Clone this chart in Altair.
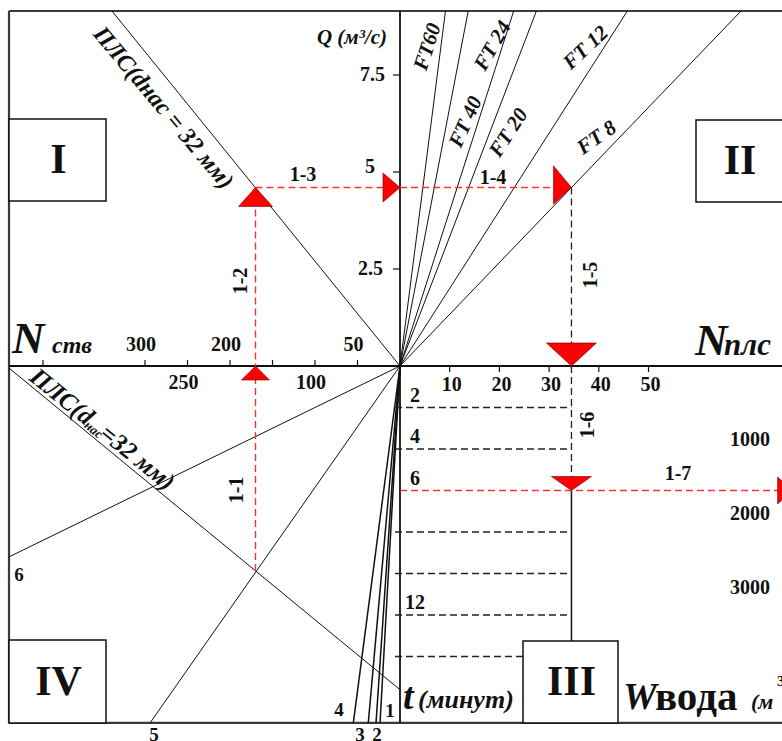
import math
import altair as alt
import pandas as pd

# ------------------------------------------------------------------
# values
# ------------------------------------------------------------------
ft_names = ["FT60", "FT 40", "FT 24", "FT 20", "FT 12", "FT 8"]
ft_rates = [60, 40, 24, 20, 12, 8]          # pump line: Q = N_плс * rate / 60

pls_q_per_nozzle = 0.027                    # ПЛС (d = 32 мм), m3/s per nozzle

iv_line_names = ["1", "2", "3", "4", "5"]
iv_line_n_at_bottom = [23.5, 28.2, 37.3, 54.9, 294]   # N_ств where line meets the bottom frame
iv_line6_end = [460, 9.2]                             # (N_ств, t)
pls_iv_start = [460, 0.1]                             # (N_ств, t)
pls_iv_end = [0, 15.6]

q_ticks = [2.5, 5, 7.5]
q_tick_labels = ["2.5", "5", "7.5"]
n_stv_ticks = [50, 100, 150, 200, 250, 300, 420]
n_stv_labels_upper = [300, 200, 50]
n_stv_labels_lower = [250, 100]
n_pls_ticks = [10, 20, 30, 40, 50]
t_guides = [2, 4, 8, 10, 12, 14]
t_labels = [2, 4, 6, 12]
w_labels = [1000, 2000, 3000]

# worked example
ex_n_stv = 170
ex_q = 4.6
ex_ft = 8
ex_t = 6
ex_n_pls = ex_q * 60 / ex_ft

# frame extents
n_stv_max = 460
q_max = 9.15
t_max = 17.2
n_pls_max = 80
w_axis_n_pls = 79

# ------------------------------------------------------------------
# nomogram scales (units -> common canvas units)
# ------------------------------------------------------------------
K_STV, K_PLS, K_Q, K_T, K_W = 0.85, 4.97, 38.8, 20.75, 0.074


def ux_stv(n):
    return -K_STV * n


def ux_pls(n):
    return K_PLS * n


def vy_q(q):
    return K_Q * q


def vy_t(t):
    return -K_T * t


def vy_w(w):
    return -K_W * w


FONT = "Liberation Serif"
XS = alt.Scale(domain=[-400, 382], nice=False, zero=False)
YS = alt.Scale(domain=[-375, 366], nice=False, zero=False)
X = alt.X("u:Q", scale=XS, axis=None)
Y = alt.Y("v:Q", scale=YS, axis=None)
X2 = alt.X2("u2:Q")
Y2 = alt.Y2("v2:Q")

L, R = ux_stv(n_stv_max), ux_pls(n_pls_max)
T, B = vy_q(q_max), vy_t(t_max)

segs = []


def seg(kind, u, v, u2, v2):
    segs.append(dict(kind=kind, u=u, v=v, u2=u2, v2=v2))


# frame and axes
seg("frame", L, T, R, T)
seg("frame", L, B, R, B)
seg("frame", L, T, L, B)
seg("axis", L, 0, R, 0)
seg("axis", 0, T, 0, B)
for q in q_ticks:
    seg("tick", -7, vy_q(q), 0, vy_q(q))
for n in n_stv_ticks:
    seg("tick", ux_stv(n), 0, ux_stv(n), 6)
for n in n_pls_ticks:
    seg("tick", ux_pls(n), 0, ux_pls(n), -6)

# quadrant II pump lines
for r in ft_rates:
    seg("thin", 0, 0, ux_pls(q_max * 60 / r), T)
# quadrant I nozzle line
seg("thin", 0, 0, ux_stv(q_max / pls_q_per_nozzle), T)
# quadrant IV lines
for n in iv_line_n_at_bottom[:4]:
    seg("mid", 0, 0, ux_stv(n), B)
seg("thin", 0, 0, ux_stv(iv_line_n_at_bottom[4]), B)
seg("thin", 0, 0, ux_stv(iv_line6_end[0]), vy_t(iv_line6_end[1]))
seg("thin", ux_stv(pls_iv_start[0]), vy_t(pls_iv_start[1]),
    ux_stv(pls_iv_end[0]), vy_t(pls_iv_end[1]))

# t where the ПЛС line in IV meets the example
frac = (pls_iv_start[0] - ex_n_stv) / (pls_iv_start[0] - pls_iv_end[0])
t_iv = pls_iv_start[1] + (pls_iv_end[1] - pls_iv_start[1]) * frac

# worked-example path
xs_ = ux_stv(ex_n_stv)
xp_ = ux_pls(ex_n_pls)
seg("red", xs_, vy_q(ex_q), xs_, 0)
seg("red", xs_, 0, xs_, vy_t(t_iv))
seg("red", xs_, vy_q(ex_q), 0, vy_q(ex_q))
seg("red", 0, vy_q(ex_q), xp_, vy_q(ex_q))
seg("dash", xp_, vy_q(ex_q), xp_, 0)
seg("dash", xp_, 0, xp_, vy_t(ex_t))
seg("red", 0, vy_t(ex_t), ux_pls(w_axis_n_pls), vy_t(ex_t))
seg("mid", xp_, vy_t(ex_t), xp_, B)
for t in t_guides:
    seg("dash", -5, vy_t(t), xp_, vy_t(t))

seg_df = pd.DataFrame(segs)

styles = {
    "frame": dict(color="#3a3a3a", strokeWidth=2.2),
    "axis": dict(color="#111111", strokeWidth=1.8),
    "tick": dict(color="#111111", strokeWidth=1.2),
    "thin": dict(color="#111111", strokeWidth=1.0),
    "mid": dict(color="#111111", strokeWidth=1.5),
    "dash": dict(color="#222222", strokeWidth=1.3, strokeDash=[7, 4]),
    "red": dict(color="#ff3030", strokeWidth=1.4, strokeDash=[7, 4]),
}

layers = []
for kind, st in styles.items():
    layers.append(
        alt.Chart(seg_df[seg_df.kind == kind]).mark_rule(**st).encode(x=X, y=Y, x2=X2, y2=Y2)
    )

# boxes with roman numerals (layout, canvas units)
boxes = pd.DataFrame([
    dict(u=-391, v=247, u2=-294, v2=165, text="I"),
    dict(u=296, v=246, u2=390, v2=164, text="II"),
    dict(u=123, v=-275, u2=218, v2=-357, text="III"),
    dict(u=-391, v=-274, u2=-294, v2=-357, text="IV"),
])
layers.append(
    alt.Chart(boxes).mark_rect(fill="white", stroke="#111111", strokeWidth=1.5)
    .encode(x=X, y=Y, x2=X2, y2=Y2)
)
box_lbl = boxes.assign(u=(boxes.u + boxes.u2.clip(upper=382)) / 2 + 1, v=(boxes.v + boxes.v2) / 2)
box_lbl.loc[1, "u"] = (296 + 382) / 2 + 1

# red triangle markers (apex at the point), paths in pixels
marker_shapes = {
    "up_big": "M0,0L17,19L-17,19Z",
    "right_mid": "M0,0L-17,-14.5L-17,14.5Z",
    "right_big": "M0,0L-18,-21.7L-18,16.7Z",
    "down_big": "M0,0L-25,-23L25,-23Z",
    "up_small": "M0,0L-14,14L14,14Z",
    "down_mid": "M0,0L-20,-14L20,-14Z",
    "right_edge": "M0,0L-15,-13.5L-15,13.5Z",
}
markers = pd.DataFrame([
    dict(u=xs_, v=vy_q(ex_q), shape=marker_shapes["up_big"]),
    dict(u=0, v=vy_q(ex_q), shape=marker_shapes["right_mid"]),
    dict(u=xp_, v=vy_q(ex_q), shape=marker_shapes["right_big"]),
    dict(u=xp_, v=0, shape=marker_shapes["down_big"]),
    dict(u=xs_, v=0, shape=marker_shapes["up_small"]),
    dict(u=xp_, v=vy_t(ex_t), shape=marker_shapes["down_mid"]),
    dict(u=ux_pls(w_axis_n_pls), v=vy_t(ex_t), shape=marker_shapes["right_edge"]),
])
layers.append(
    alt.Chart(markers).mark_point(filled=True, size=4, fill="#ff0000", stroke="#700000",
                                  strokeWidth=0.6, opacity=1, fillOpacity=1)
    .encode(x=X, y=Y, shape=alt.Shape("shape:N", scale=None))
)


def text_layer(rows, size, style="normal", weight="bold", align="center",
               baseline="middle", angle=0, color="#111111"):
    df = pd.DataFrame(rows)
    return alt.Chart(df).mark_text(
        font=FONT, fontSize=size, fontStyle=style, fontWeight=weight,
        align=align, baseline=baseline, angle=angle, color=color
    ).encode(x=X, y=Y, text="text:N")


# box numerals
layers.append(text_layer(box_lbl[["u", "v", "text"]].to_dict("records"), 42))

# axis tick labels
q_lbl_u = {"2.5": -17, "5": -25, "7.5": -15}
layers.append(text_layer([dict(u=q_lbl_u[lab], v=vy_q(q) + (5 if lab == "5" else 0), text=lab)
                          for q, lab in zip(q_ticks, q_tick_labels)], 20, align="right"))
layers.append(text_layer([dict(u=ux_stv(n) - 4, v=21, text=str(n)) for n in n_stv_labels_upper], 20))
layers.append(text_layer([dict(u=ux_stv(n) - 4, v=-17, text=str(n)) for n in n_stv_labels_lower], 20))
layers.append(text_layer([dict(u=ux_pls(n) + 2, v=-19, text=str(n)) for n in n_pls_ticks], 20))
layers.append(text_layer([dict(u=15, v=vy_t(t) + 12, text=str(t)) for t in t_labels], 20))
layers.append(text_layer([dict(u=350, v=vy_w(w), text=str(w)) for w in w_labels], 20))

# axis titles
layers.append(text_layer([dict(u=-48, v=328, text="Q (м³/с)")], 21, style="italic"))
layers.append(text_layer([dict(u=-388, v=13, text="N")], 45, style="italic", align="left", baseline="alphabetic"))
layers.append(text_layer([dict(u=-348, v=13, text="ств")], 24, style="italic", align="left", baseline="alphabetic"))
layers.append(text_layer([dict(u=295, v=11, text="N")], 45, style="italic", align="left", baseline="alphabetic"))
layers.append(text_layer([dict(u=324, v=11, text="плс")], 31, style="italic", align="left", baseline="alphabetic"))
layers.append(text_layer([dict(u=3, v=-343, text="t")], 38, style="italic", align="left", baseline="alphabetic"))
layers.append(text_layer([dict(u=18, v=-342, text="(минут)")], 26, style="italic", align="left", baseline="alphabetic"))
layers.append(text_layer([dict(u=223, v=-343, text="W")], 38, style="italic", align="left", baseline="alphabetic"))
layers.append(text_layer([dict(u=255, v=-344, text="вода")], 41, align="left", baseline="alphabetic"))
layers.append(text_layer([dict(u=351, v=-343, text="(м")], 22, style="italic", align="left", baseline="alphabetic"))
layers.append(text_layer([dict(u=377, v=-320, text="3")], 15, align="left", baseline="alphabetic"))

# step labels
layers.append(text_layer([dict(u=-97, v=191, text="1-3"), dict(u=93, v=188, text="1-4"),
                          dict(u=278, v=-108, text="1-7")], 20))
layers.append(text_layer([dict(u=-159, v=85, text="1-2"), dict(u=-163, v=-124, text="1-1"),
                          dict(u=191, v=91, text="1-5"), dict(u=188, v=-59, text="1-6")],
                         20, angle=270))

# quadrant IV line labels
iv_lbl_pos = {"1": (-10, -345), "2": (-23, -369), "3": (-40, -369), "4": (-61, -344),
              "5": (-246, -369), "6": (-381, -209)}
layers.append(text_layer([dict(u=p[0], v=p[1], text=k) for k, p in iv_lbl_pos.items()], 19))

# FT labels
ft_pos = [(28, 319, 288), (66, 244, 294), (93, 320, 300), (109, 233, 303), (186, 318, 317), (197, 228, 325)]
for name, (u, v, a) in zip(ft_names, ft_pos):
    layers.append(text_layer([dict(u=u, v=v, text=name)], 21, style="italic", angle=a))

# ПЛС labels
layers.append(text_layer([dict(u=-237, v=258, text="ПЛС(dнас = 32 мм)")], 24, style="italic", angle=50))
ang = 39
d = (math.cos(math.radians(ang)), -math.sin(math.radians(ang)))   # along text, canvas units
nrm = (math.sin(math.radians(ang)), math.cos(math.radians(ang)))  # text "up", canvas units
c0 = (-298, -63)
pieces = [("ПЛС(d", 25, -51.5, 0), ("нас", 13, -6, -6), ("=32 мм)", 25, 45.5, 0)]
for txt, sz, along, up in pieces:
    layers.append(text_layer([dict(u=c0[0] + along * d[0] + up * nrm[0],
                                   v=c0[1] + along * d[1] + up * nrm[1], text=txt)],
                             sz, style="italic", angle=ang))

chart = alt.layer(*layers).properties(
    width=782, height=741, padding=0, autosize=alt.AutoSizeParams(type="none"),
    background="white"
).configure_view(stroke=None)

chart.save("out.html", embed_options={"renderer": "svg", "actions": False})
